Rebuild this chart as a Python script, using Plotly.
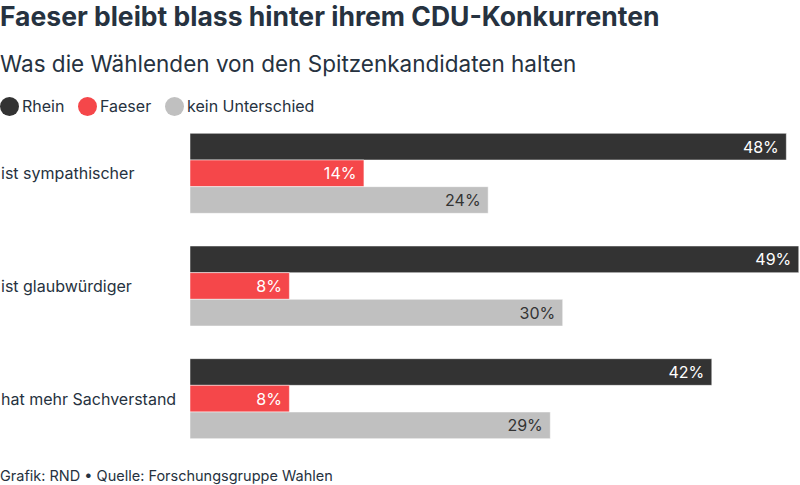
import plotly.graph_objects as go

categories = ["ist sympathischer", "ist glaubwürdiger", "hat mehr Sachverstand"]
rhein = [48, 49, 42]
faeser = [14, 8, 8]
kein = [24, 30, 29]
series_names = ["Rhein", "Faeser", "kein Unterschied"]
colors = ["#333333", "#f5474a", "#c0c0c0"]
label_colors = ["#ffffff", "#ffffff", "#333333"]
title = "Faeser bleibt blass hinter ihrem CDU-Konkurrenten"
subtitle = "Was die Wählenden von den Spitzenkandidaten halten"
footer = "Grafik: RND • Quelle: Forschungsgruppe Wahlen"

TXT = "#263240"
FONT = "Inter"

W, H = 800, 485
L, T, B, R = 190, 116.5, 29.5, 0


def px_x(px):
    return dict(x=0, xref="paper", xshift=px - L)


def px_y(py):
    return dict(y=1, yref="paper", yshift=T - py)


fig = go.Figure()
for name, vals, c, lc in zip(series_names, [rhein, faeser, kein], colors, label_colors):
    fig.add_trace(go.Bar(
        y=categories, x=vals, orientation="h", name=name,
        marker=dict(color=c, line=dict(color="#ffffff", width=0.5)),
        text=[f"{v}%&nbsp;" for v in vals], textposition="inside",
        insidetextanchor="end", textangle=0,
        textfont=dict(color=lc, size=16, family=FONT),
        showlegend=False, hoverinfo="skip",
    ))

# category labels
for cat in categories:
    fig.add_annotation(
        **px_x(-1), y=cat, yref="y",
        text=cat, showarrow=False, xanchor="left", yanchor="middle",
        font=dict(size=16, color=TXT, family=FONT),
    )

# subtitle
fig.add_annotation(
    **px_x(-2), **px_y(63),
    text=subtitle, showarrow=False, xanchor="left", yanchor="middle",
    font=dict(size=22.5, color=TXT, family=FONT),
)
# footer
fig.add_annotation(
    **px_x(-2), **px_y(475),
    text=footer, showarrow=False, xanchor="left", yanchor="middle",
    font=dict(size=14.5, color=TXT, family=FONT),
)

# manual legend with circles
legend_circle_x = [0, 78, 165]
legend_text_x = [20, 98, 185]
for name, c, cx, tx in zip(series_names, colors, legend_circle_x, legend_text_x):
    fig.add_shape(
        type="circle", xref="paper", yref="paper",
        xsizemode="pixel", ysizemode="pixel", xanchor=0, yanchor=1,
        x0=cx - L, x1=cx + 19 - L, y0=T - 115.5, y1=T - 96.5,
        fillcolor=c, line=dict(width=0),
    )
    fig.add_annotation(
        **px_x(tx), **px_y(105),
        text=name, showarrow=False, xanchor="left", yanchor="middle",
        font=dict(size=16, color=TXT, family=FONT),
    )

fig.update_layout(
    width=W, height=H,
    margin=dict(l=L, r=R, t=T, b=B),
    paper_bgcolor="white", plot_bgcolor="white",
    title=dict(text=f"<b>{title}</b>", x=0, xref="container", xanchor="left",
               y=1 - 17 / H, yref="container", yanchor="middle",
               font=dict(size=26.5, color=TXT, family=FONT)),
    barmode="group", bargap=0.29, bargroupgap=0,
    showlegend=False,
    xaxis=dict(range=[0, 49.1], visible=False, fixedrange=True),
    yaxis=dict(autorange="reversed", showticklabels=False, showgrid=False,
               zeroline=False, fixedrange=True),
    font=dict(family=FONT),
)

fig.write_html("out.html", config={"displayModeBar": False},
               post_script="document.body.style.margin='0';")
